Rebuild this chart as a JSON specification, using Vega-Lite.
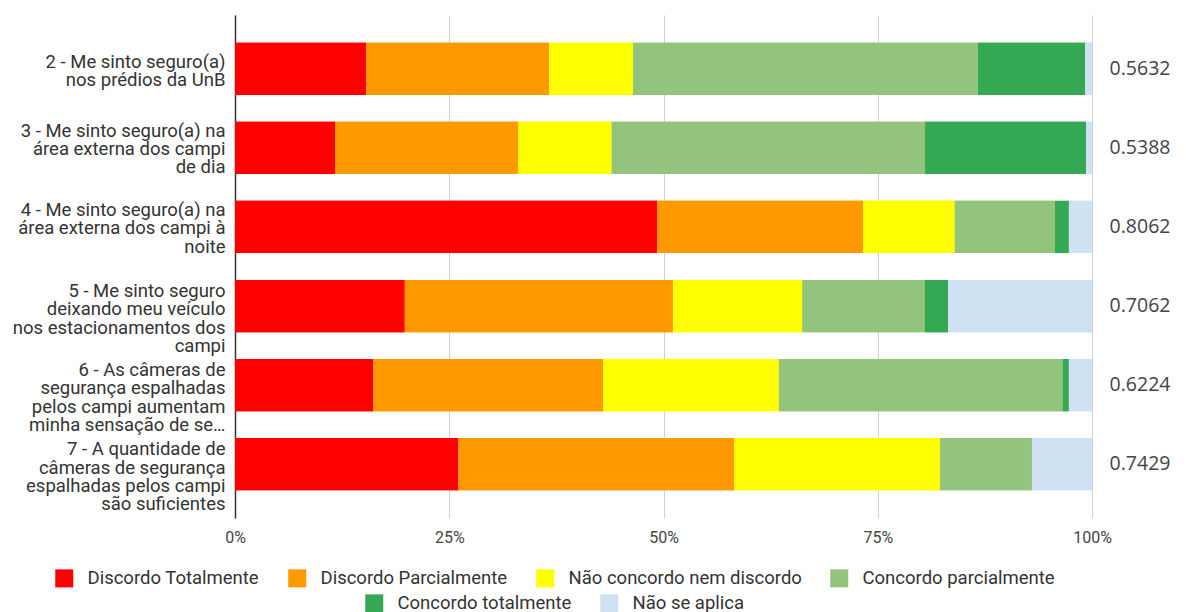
{
  "$schema": "https://vega.github.io/schema/vega-lite/v6.json",
  "autosize": "none",
  "width": 857,
  "height": 503,
  "padding": {"left": 235, "top": 15, "right": 94, "bottom": 94},
  "background": "white",
  "config": {
    "font": "Roboto",
    "view": {"stroke": null}
  },
  "datasets": {
    "bars": [
      {"q": "2 - Me sinto seguro(a)|nos prédios da UnB", "cat": "Discordo Totalmente", "k": 1, "v": 15.3},
      {"q": "2 - Me sinto seguro(a)|nos prédios da UnB", "cat": "Discordo Parcialmente", "k": 2, "v": 21.4},
      {"q": "2 - Me sinto seguro(a)|nos prédios da UnB", "cat": "Não concordo nem discordo", "k": 3, "v": 9.8},
      {"q": "2 - Me sinto seguro(a)|nos prédios da UnB", "cat": "Concordo parcialmente", "k": 4, "v": 40.3},
      {"q": "2 - Me sinto seguro(a)|nos prédios da UnB", "cat": "Concordo totalmente", "k": 5, "v": 12.5},
      {"q": "2 - Me sinto seguro(a)|nos prédios da UnB", "cat": "Não se aplica", "k": 6, "v": 0.8},
      {"q": "3 - Me sinto seguro(a) na|área externa dos campi|de dia", "cat": "Discordo Totalmente", "k": 1, "v": 11.7},
      {"q": "3 - Me sinto seguro(a) na|área externa dos campi|de dia", "cat": "Discordo Parcialmente", "k": 2, "v": 21.4},
      {"q": "3 - Me sinto seguro(a) na|área externa dos campi|de dia", "cat": "Não concordo nem discordo", "k": 3, "v": 10.9},
      {"q": "3 - Me sinto seguro(a) na|área externa dos campi|de dia", "cat": "Concordo parcialmente", "k": 4, "v": 36.6},
      {"q": "3 - Me sinto seguro(a) na|área externa dos campi|de dia", "cat": "Concordo totalmente", "k": 5, "v": 18.8},
      {"q": "3 - Me sinto seguro(a) na|área externa dos campi|de dia", "cat": "Não se aplica", "k": 6, "v": 0.7},
      {"q": "4 - Me sinto seguro(a) na|área externa dos campi à|noite", "cat": "Discordo Totalmente", "k": 1, "v": 49.2},
      {"q": "4 - Me sinto seguro(a) na|área externa dos campi à|noite", "cat": "Discordo Parcialmente", "k": 2, "v": 24.0},
      {"q": "4 - Me sinto seguro(a) na|área externa dos campi à|noite", "cat": "Não concordo nem discordo", "k": 3, "v": 10.7},
      {"q": "4 - Me sinto seguro(a) na|área externa dos campi à|noite", "cat": "Concordo parcialmente", "k": 4, "v": 11.7},
      {"q": "4 - Me sinto seguro(a) na|área externa dos campi à|noite", "cat": "Concordo totalmente", "k": 5, "v": 1.6},
      {"q": "4 - Me sinto seguro(a) na|área externa dos campi à|noite", "cat": "Não se aplica", "k": 6, "v": 2.7},
      {"q": "5 - Me sinto seguro|deixando meu veículo|nos estacionamentos dos|campi", "cat": "Discordo Totalmente", "k": 1, "v": 19.8},
      {"q": "5 - Me sinto seguro|deixando meu veículo|nos estacionamentos dos|campi", "cat": "Discordo Parcialmente", "k": 2, "v": 31.3},
      {"q": "5 - Me sinto seguro|deixando meu veículo|nos estacionamentos dos|campi", "cat": "Não concordo nem discordo", "k": 3, "v": 15.1},
      {"q": "5 - Me sinto seguro|deixando meu veículo|nos estacionamentos dos|campi", "cat": "Concordo parcialmente", "k": 4, "v": 14.3},
      {"q": "5 - Me sinto seguro|deixando meu veículo|nos estacionamentos dos|campi", "cat": "Concordo totalmente", "k": 5, "v": 2.7},
      {"q": "5 - Me sinto seguro|deixando meu veículo|nos estacionamentos dos|campi", "cat": "Não se aplica", "k": 6, "v": 16.8},
      {"q": "6 - As câmeras de|segurança espalhadas|pelos campi aumentam|minha sensação de se…", "cat": "Discordo Totalmente", "k": 1, "v": 16.1},
      {"q": "6 - As câmeras de|segurança espalhadas|pelos campi aumentam|minha sensação de se…", "cat": "Discordo Parcialmente", "k": 2, "v": 26.8},
      {"q": "6 - As câmeras de|segurança espalhadas|pelos campi aumentam|minha sensação de se…", "cat": "Não concordo nem discordo", "k": 3, "v": 20.5},
      {"q": "6 - As câmeras de|segurança espalhadas|pelos campi aumentam|minha sensação de se…", "cat": "Concordo parcialmente", "k": 4, "v": 33.1},
      {"q": "6 - As câmeras de|segurança espalhadas|pelos campi aumentam|minha sensação de se…", "cat": "Concordo totalmente", "k": 5, "v": 0.7},
      {"q": "6 - As câmeras de|segurança espalhadas|pelos campi aumentam|minha sensação de se…", "cat": "Não se aplica", "k": 6, "v": 2.7},
      {"q": "7 - A quantidade de|câmeras de segurança|espalhadas pelos campi|são suficientes", "cat": "Discordo Totalmente", "k": 1, "v": 26.0},
      {"q": "7 - A quantidade de|câmeras de segurança|espalhadas pelos campi|são suficientes", "cat": "Discordo Parcialmente", "k": 2, "v": 32.2},
      {"q": "7 - A quantidade de|câmeras de segurança|espalhadas pelos campi|são suficientes", "cat": "Não concordo nem discordo", "k": 3, "v": 24.0},
      {"q": "7 - A quantidade de|câmeras de segurança|espalhadas pelos campi|são suficientes", "cat": "Concordo parcialmente", "k": 4, "v": 10.7},
      {"q": "7 - A quantidade de|câmeras de segurança|espalhadas pelos campi|são suficientes", "cat": "Concordo totalmente", "k": 5, "v": 0.0},
      {"q": "7 - A quantidade de|câmeras de segurança|espalhadas pelos campi|são suficientes", "cat": "Não se aplica", "k": 6, "v": 7.0}
    ],
    "scores": [
      {"q": "2 - Me sinto seguro(a)|nos prédios da UnB", "s": "0.5632"},
      {"q": "3 - Me sinto seguro(a) na|área externa dos campi|de dia", "s": "0.5388"},
      {"q": "4 - Me sinto seguro(a) na|área externa dos campi à|noite", "s": "0.8062"},
      {"q": "5 - Me sinto seguro|deixando meu veículo|nos estacionamentos dos|campi", "s": "0.7062"},
      {"q": "6 - As câmeras de|segurança espalhadas|pelos campi aumentam|minha sensação de se…", "s": "0.6224"},
      {"q": "7 - A quantidade de|câmeras de segurança|espalhadas pelos campi|são suficientes", "s": "0.7429"}
    ]
  },
  "layer": [
    {
      "data": {"name": "bars"},
      "mark": {"type": "bar"},
      "encoding": {
        "y": {
          "field": "q", "type": "nominal", "sort": null,
          "scale": {"paddingInner": 0.34, "paddingOuter": 0.35},
          "axis": {
            "title": null,
            "labelExpr": "split(datum.label, '|')",
            "labelFontSize": 18.5,
            "labelLineHeight": 18.3,
            "labelOffset": {"condition": [
              {"test": "indexof(datum.value, 'UnB') >= 0", "value": -7},
              {"test": "length(split(datum.value, '|')) == 4", "value": -15}
            ], "value": -17},
            "labelColor": "#333",
            "labelPadding": 10,
            "labelLimit": 260,
            "ticks": false,
            "domain": true,
            "domainColor": "#333",
            "domainWidth": 1.5
          }
        },
        "x": {
          "field": "v", "type": "quantitative", "stack": "normalize",
          "scale": {"domain": [0, 1]},
          "axis": {
            "title": null,
            "format": ".0%",
            "values": [0, 0.25, 0.5, 0.75, 1],
            "grid": true,
            "gridColor": "#d0d0d0",
            "domain": false,
            "ticks": false,
            "labelFlush": false,
            "labelFontSize": 16,
            "labelColor": "#444",
            "labelPadding": 11
          }
        },
        "color": {
          "field": "cat", "type": "nominal",
          "scale": {
            "domain": ["Discordo Totalmente", "Discordo Parcialmente", "Não concordo nem discordo", "Concordo parcialmente", "Concordo totalmente", "Não se aplica"],
            "range": ["#ff0000", "#ff9900", "#ffff00", "#93c47d", "#34a853", "#cfe2f3"]
          },
          "legend": {
            "title": null,
            "orient": "none",
            "legendX": -180,
            "legendY": 554,
            "direction": "horizontal",
            "values": ["Discordo Totalmente", "Discordo Parcialmente", "Não concordo nem discordo", "Concordo parcialmente"],
            "symbolType": "square",
            "symbolSize": 324,
            "symbolStrokeWidth": 0,
            "symbolOpacity": 1,
            "labelFontSize": 18.5,
            "labelColor": "#333",
            "labelOffset": 14,
            "labelLimit": 300,
            "columnPadding": 28
          }
        },
        "order": {"field": "k", "type": "quantitative"}
      }
    },
    {
      "data": {"name": "bars"},
      "mark": {"type": "bar"},
      "encoding": {
        "y": {"field": "q", "type": "nominal", "sort": null},
        "x": {"field": "v", "type": "quantitative", "stack": "normalize"},
        "fill": {
          "field": "cat", "type": "nominal",
          "scale": {
            "domain": ["Concordo totalmente", "Não se aplica", "Discordo Totalmente", "Discordo Parcialmente", "Não concordo nem discordo", "Concordo parcialmente"],
            "range": ["#34a853", "#cfe2f3", "#ff0000", "#ff9900", "#ffff00", "#93c47d"]
          },
          "legend": {
            "title": null,
            "orient": "none",
            "legendX": 130,
            "legendY": 579,
            "direction": "horizontal",
            "values": ["Concordo totalmente", "Não se aplica"],
            "symbolType": "square",
            "symbolSize": 324,
            "symbolStrokeWidth": 0,
            "symbolOpacity": 1,
            "labelFontSize": 18.5,
            "labelColor": "#333",
            "labelOffset": 14,
            "labelLimit": 300,
            "columnPadding": 28
          }
        },
        "order": {"field": "k", "type": "quantitative"}
      }
    },
    {
      "data": {"name": "scores"},
      "mark": {"type": "text", "font": "Open Sans", "fontSize": 19.5, "color": "#444", "align": "center", "dx": 48},
      "encoding": {
        "y": {"field": "q", "type": "nominal", "sort": null},
        "x": {"datum": 1},
        "text": {"field": "s"}
      }
    }
  ]
}
